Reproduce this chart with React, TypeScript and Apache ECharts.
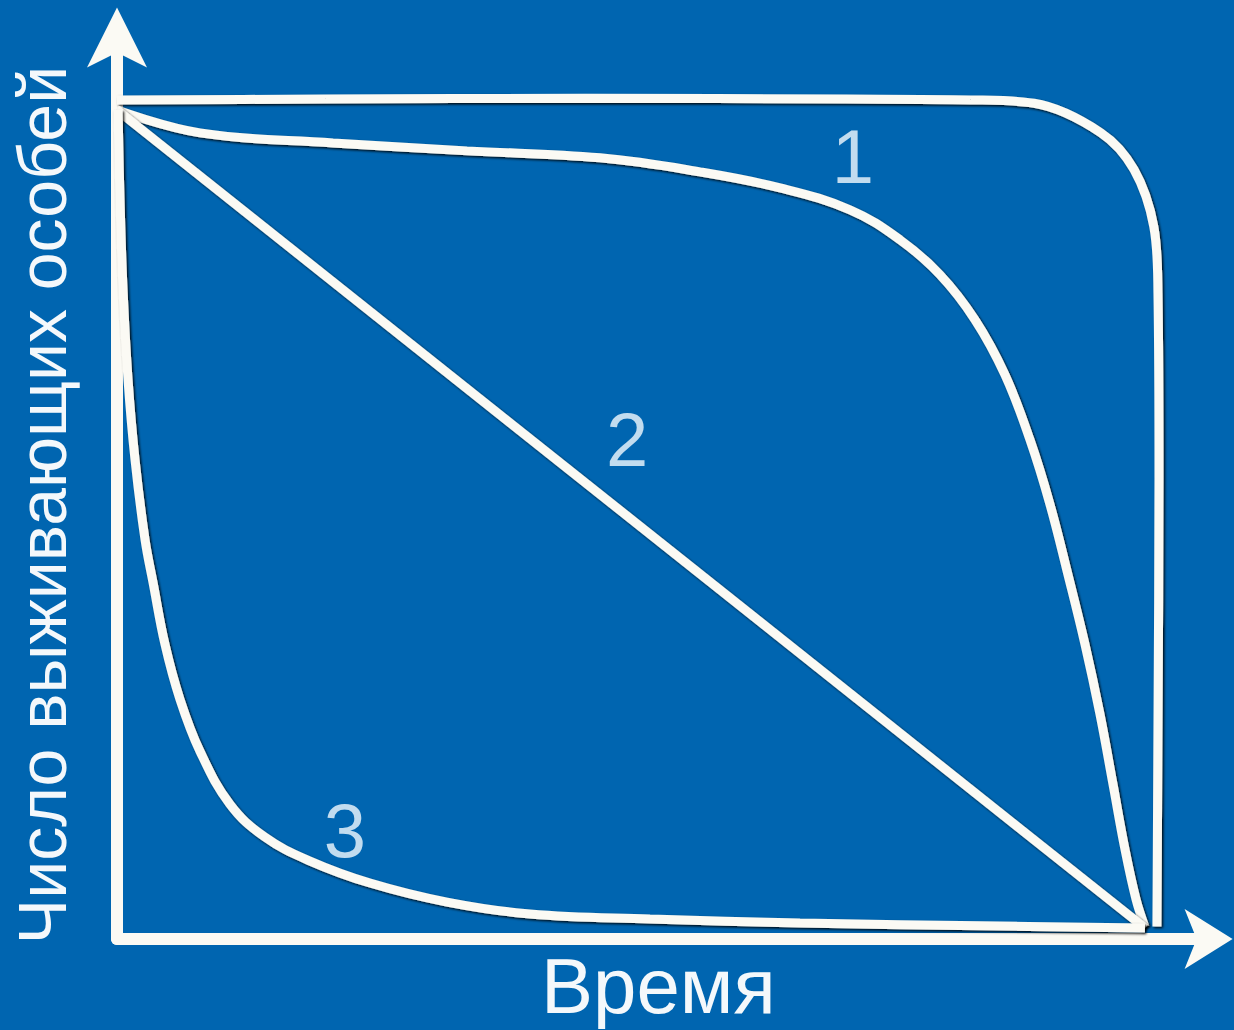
import React, { useEffect, useRef } from "react";
import * as echarts from "echarts";

// ---- data (x: time 0..100, y: survivors 0..100) ----
const outerCurve: [number, number][] = [
  [0, 100], [20, 100.1], [45, 100.2], [70, 100.1], [82, 100], [88.1, 99.6],
  [94.5, 96.1], [97.7, 91.7], [99.6, 84.9], [100, 77], [100.1, 55], [100, 25], [99.9, 1.5],
];
const curve1: [number, number][] = [
  [0, 98.8], [7.97, 96.07], [20.75, 94.88], [33.62, 93.93], [46.4, 93.1],
  [56.0, 91.43], [63.69, 89.52], [70.41, 86.9], [75.22, 83.33], [79.06, 79.17],
  [82.42, 73.81], [85.3, 67.26], [87.7, 59.52], [89.63, 51.79], [91.35, 43.45],
  [92.99, 35.12], [94.43, 26.79], [95.68, 18.45], [96.83, 10.71], [97.89, 4.76],
  [98.75, 1.43],
];
const curve2: [number, number][] = [
  [0, 98.8], [98.75, 1.3],
];
const curve3: [number, number][] = [
  [0.1, 98.81], [0.29, 88.1], [0.58, 77.38], [1.06, 66.67], [1.73, 57.14],
  [2.69, 47.62], [3.46, 42.5], [4.61, 35.12], [6.05, 28.57], [7.97, 22.38],
  [10.85, 16.07], [14.22, 12.14], [18.54, 9.29], [24.3, 6.67], [31.7, 4.4],
  [39.67, 2.98], [51.2, 2.38], [65.61, 1.9], [84.82, 1.55], [98.75, 1.31],
];
const labelText = ["1", "2", "3"];
const labelX = [70.7, 49.0, 21.9];
const labelY = [93.3, 59.5, 12.9];

const xTitle = "Время";
const yTitle = "Число выживающих особей";

const FONT = "'Liberation Sans', Arial, sans-serif";
const WHITE = "#fbfaf4";
const LINE_STYLE = {
  color: WHITE,
  width: 9,
  shadowColor: "rgba(0,0,0,0.9)",
  shadowBlur: 2,
  shadowOffsetX: 1.5,
  shadowOffsetY: 1.5,
};

function curveSeries(name: string, data: [number, number][], smooth: number | boolean) {
  return {
    name,
    type: "line",
    data,
    smooth,
    showSymbol: false,
    symbol: "none",
    lineStyle: LINE_STYLE,
    z: 3,
  };
}

export default function App() {
  const ref = useRef<HTMLDivElement>(null);
  useEffect(() => {
    if (!ref.current) return;
    const chart = echarts.init(ref.current, undefined, { renderer: "svg" });
    const axisLineStyle = { color: WHITE, width: 12 };
    chart.setOption({
      animation: false,
      backgroundColor: "#0065b0",
      grid: { left: 117, top: 45.4, width: 1082.6, height: 894.6, containLabel: false },
      xAxis: {
        type: "value",
        min: 0,
        max: 104,
        name: xTitle,
        nameLocation: "middle",
        nameGap: 8,
        nameTextStyle: { color: "#f4f8fb", fontSize: 78, fontFamily: FONT, verticalAlign: "top" },
        axisLine: {
          show: true,
          symbol: ["none", "arrow"],
          symbolSize: [45, 48],
          symbolOffset: [0, 33],
          lineStyle: axisLineStyle,
        },
        axisTick: { show: false },
        axisLabel: { show: false },
        splitLine: { show: false },
      },
      yAxis: {
        type: "value",
        min: 0,
        max: 106.5,
        axisLine: {
          show: true,
          symbol: ["none", "arrow"],
          symbolSize: [45, 60],
          symbolOffset: [0, 38],
          lineStyle: axisLineStyle,
        },
        axisTick: { show: false },
        axisLabel: { show: false },
        splitLine: { show: false },
      },
      graphic: [
        {
          type: "text",
          x: 42,
          y: 505,
          rotation: Math.PI / 2,
          style: {
            text: yTitle,
            fill: "#f4f8fb",
            font: `68px ${FONT}`,
            align: "center",
            verticalAlign: "middle",
          },
        },
      ],
      series: [
        curveSeries("outer", outerCurve, 0.35),
        curveSeries("1", curve1, 0.4),
        curveSeries("2", curve2, false),
        curveSeries("3", curve3, 0.4),
        {
          name: "labels",
          type: "scatter",
          symbol: "circle",
          symbolSize: 0.1,
          itemStyle: { color: "transparent" },
          data: labelText.map((t, i) => [labelX[i], labelY[i], t]),
          label: {
            show: true,
            position: "inside",
            formatter: (p: any) => p.value[2],
            color: "#f2faff",
            fontSize: 76,
            fontFamily: FONT,
          },
          z: 4,
        },
      ],
    });
    return () => chart.dispose();
  }, []);
  return (
    <div
      ref={ref}
      style={{ position: "fixed", left: 0, top: 0, width: 1234, height: 1030 }}
    />
  );
}
